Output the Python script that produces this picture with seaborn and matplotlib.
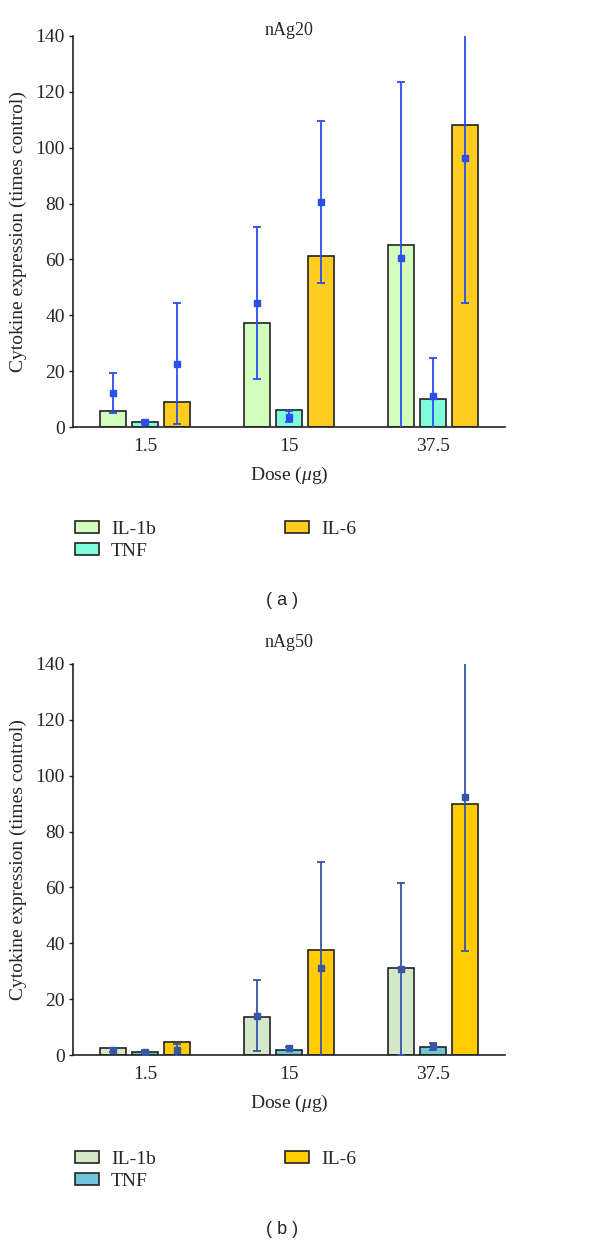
import numpy as np
import pandas as pd
import matplotlib
matplotlib.use("Agg")
import matplotlib.pyplot as plt
import seaborn as sns

DOSES = ["1.5", "15", "37.5"]
CYTOKINES = ["IL-1b", "TNF", "IL-6"]

# nAg20: bar heights, marker means and SD (per cytokine, per dose)
NAG20_BARS = {"IL-1b": [5.8, 37.2, 65.1], "TNF": [1.9, 6.1, 10.0], "IL-6": [9.1, 61.3, 108.0]}
NAG20_MEAN = {"IL-1b": [12.1, 44.5, 60.4], "TNF": [1.7, 3.7, 11.2], "IL-6": [22.6, 80.6, 96.2]}
NAG20_SD = {"IL-1b": [7.1, 27.2, 63.1], "TNF": [0.8, 2.0, 13.4], "IL-6": [21.7, 29.0, 51.9]}

# nAg50
NAG50_BARS = {"IL-1b": [2.4, 13.5, 31.0], "TNF": [1.2, 1.8, 3.0], "IL-6": [4.8, 37.7, 89.8]}
NAG50_MEAN = {"IL-1b": [1.8, 14.1, 30.8], "TNF": [1.2, 2.4, 3.1], "IL-6": [1.8, 31.3, 92.5]}
NAG50_SD = {"IL-1b": [0.8, 12.6, 30.7], "TNF": [0.5, 0.6, 1.2], "IL-6": [2.0, 37.7, 55.2]}

COLORS_A = ["#d4fcbc", "#80fcdc", "#fecb1f"]
COLORS_B = ["#d4e7c8", "#6cc6d8", "#ffcc00"]
ERR_A = "#2a4ff0"
ERR_B = "#3656a6"

sns.set_style("white")
plt.rcParams["font.family"] = ["Liberation Serif", "DejaVu Serif"]
plt.rcParams["mathtext.fontset"] = "custom"
plt.rcParams["mathtext.it"] = "Liberation Serif:italic"
plt.rcParams["mathtext.rm"] = "Liberation Serif"


def to_frame(values):
    rows = []
    for c in CYTOKINES:
        for d, v in zip(DOSES, values[c]):
            rows.append({"Dose": d, "Cytokine": c, "Value": v})
    return pd.DataFrame(rows)


def draw_panel(fig, rect, title, title_pad, bars, means, sds, colors, err_color, legend_y, tag, tag_y):
    ax = fig.add_axes(rect)
    df = to_frame(bars)
    sns.barplot(data=df, x="Dose", y="Value", hue="Cytokine", order=DOSES, hue_order=CYTOKINES,
                palette=colors, saturation=1, width=0.667, gap=0.19, errorbar=None,
                edgecolor="#222222", linewidth=1.2, ax=ax)

    # mean +/- sd markers over each bar
    for cont, c in zip(ax.containers, CYTOKINES):
        xs = [p.get_x() + p.get_width() / 2 for p in cont.patches]
        ax.errorbar(xs, means[c], yerr=sds[c], fmt="s", color=err_color, ms=5,
                    elinewidth=1.3, capsize=3, capthick=1.3, zorder=5)

    ax.set_ylim(0, 140)
    ax.set_xlim(-0.5, 2.5)
    ax.set_yticks(np.arange(0, 141, 20))
    ax.set_title(title, fontsize=13, pad=title_pad)
    ax.set_xlabel(r"Dose ($\mu$g)", fontsize=14, labelpad=7)
    ax.set_ylabel("Cytokine expression (times control)", fontsize=14, labelpad=6)
    ax.tick_params(axis="y", length=3, width=1, pad=3, labelsize=14, color="#222222", left=True)
    ax.tick_params(axis="x", length=0, pad=8, labelsize=14)
    sns.despine(ax=ax)
    for s in ["left", "bottom"]:
        ax.spines[s].set_color("#222222")
        ax.spines[s].set_linewidth(1.2)

    ax.get_legend().remove()
    handles = [plt.Rectangle((0, 0), 1, 1, facecolor=col, edgecolor="#222222", linewidth=1.2)
               for col in colors]
    fig.legend(handles, CYTOKINES, loc="upper left", bbox_to_anchor=(0.112, legend_y),
               ncol=2, frameon=False, fontsize=14, handlelength=1.25, handleheight=0.55,
               handletextpad=0.6, labelspacing=0.25, columnspacing=6.65, borderaxespad=0)
    fig.text(0.47, tag_y, tag, ha="center", va="center", fontsize=13,
             family=["Liberation Sans", "DejaVu Sans"])
    return ax


def main():
    fig = plt.figure(figsize=(6, 12.42), dpi=100)
    H = 1242.0
    W = 600.0
    draw_panel(fig, [73 / W, 1 - 427 / H, 432 / W, 391 / H], "nAg20", 1,
               NAG20_BARS, NAG20_MEAN, NAG20_SD, COLORS_A, ERR_A,
               1 - 513 / H, "( a )", 1 - 601 / H)
    draw_panel(fig, [73 / W, 1 - 1055 / H, 432 / W, 391 / H], "nAg50", 12,
               NAG50_BARS, NAG50_MEAN, NAG50_SD, COLORS_B, ERR_B,
               1 - 1143 / H, "( b )", 1 - 1229 / H)
    fig.savefig("out.png", dpi=100)
    plt.close(fig)


if __name__ == "__main__":
    main()
